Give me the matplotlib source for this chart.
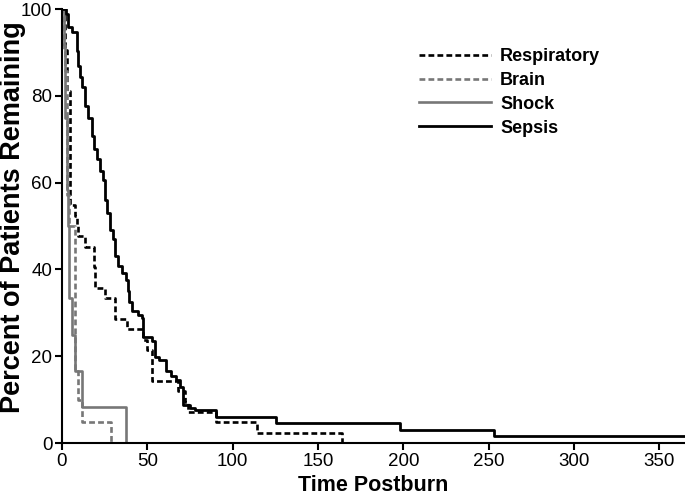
import matplotlib.pyplot as plt
import numpy as np

plt.rcParams['font.family'] = ['Liberation Sans', 'DejaVu Sans']

# step curves: time of event and percent remaining afterwards
t_sepsis = [0, 2.5, 3.5, 6, 8.5, 9.5, 10.5, 11.6, 13.5, 15.5, 17.4, 18.5, 20.3, 22, 24, 25,
            26.5, 28, 30, 31, 33, 35, 37.5, 38.5, 39.5, 40.8, 44.5, 46.6, 47.7, 52.5, 54.5,
            57, 61, 64, 67, 69.3, 71, 75, 78, 90, 125.3, 198, 253, 365]
p_sepsis = [100, 98.8, 95.8, 94.6, 90.3, 86.8, 84.3, 82, 77.6, 75, 70.7, 67.7, 65.5, 62.7, 60.7, 56,
            53, 49, 47, 43, 40.7, 39.2, 37.6, 35, 32.5, 30.3, 29.5, 28.8, 24.5, 23.4, 19.9,
            19.2, 16.5, 15.5, 14.5, 13, 8.8, 8.0, 7.6, 6.1, 4.5, 3.0, 1.5, 1.5]

t_resp = [0, 1.5, 3, 4.7, 7.6, 8.6, 9.5, 13.5, 18.5, 19.3, 25, 31, 38, 47.6, 50, 52.5,
          68, 72, 74, 90.5, 114, 164]
p_resp = [100, 90.5, 81, 54.8, 52.4, 50, 47.6, 45.2, 40.5, 35.7, 33.3, 28.6, 26.2, 23.8, 21.4, 14.3,
          11.9, 9.5, 7.1, 4.8, 2.4, 0]

t_brain = [0, 1, 2, 3, 4, 7.5, 9.6, 11.5, 28.5, 365]
p_brain = [100, 90.5, 85.7, 57.1, 50, 16.7, 10, 4.8, 0, 0]

t_shock = [0, 1, 2, 3, 3.5, 4, 5.7, 7.6, 11.5, 37.5, 365]
p_shock = [100, 91.7, 75, 58.3, 50, 33.3, 25, 16.7, 8.3, 0, 0]

fig = plt.figure(figsize=(6.85, 5), dpi=100)
ax = fig.add_axes([0.0905, 0.114, 0.9095, 0.868])

ax.step(t_resp, p_resp, where='post', color='black', lw=1.9, ls=(0, (2.2, 1.2)), label='Respiratory')
ax.step(t_brain, p_brain, where='post', color='#777777', lw=1.9, ls=(0, (2.2, 1.2)), label='Brain')
ax.step(t_shock, p_shock, where='post', color='#777777', lw=1.9, label='Shock')
ax.step(t_sepsis, p_sepsis, where='post', color='black', lw=2.0, label='Sepsis')

ax.set_xlim(0, 365)
ax.set_ylim(0, 100)
ax.set_xticks([0, 50, 100, 150, 200, 250, 300, 350])
ax.set_yticks([0, 20, 40, 60, 80, 100])
ax.spines['top'].set_visible(False)
ax.spines['right'].set_visible(False)
for s in ['left', 'bottom']:
    ax.spines[s].set_linewidth(1.5)
ax.tick_params(width=1.5, length=5, labelsize=13.5, direction='out', pad=2)
ax.set_xlabel('Time Postburn', fontsize=15.5, fontweight='bold', labelpad=4)
ax.set_ylabel('Percent of Patients Remaining', fontsize=19.5, fontweight='bold')
ax.yaxis.set_label_coords(-0.058, 0.52)

leg = ax.legend(loc='upper left', bbox_to_anchor=(0.573, 0.91), frameon=False, handlelength=4.0,
                prop={'weight': 'bold', 'size': 13}, labelspacing=0.38, handletextpad=0.5,
                borderpad=0, borderaxespad=0)

plt.savefig('out.png', dpi=100)
